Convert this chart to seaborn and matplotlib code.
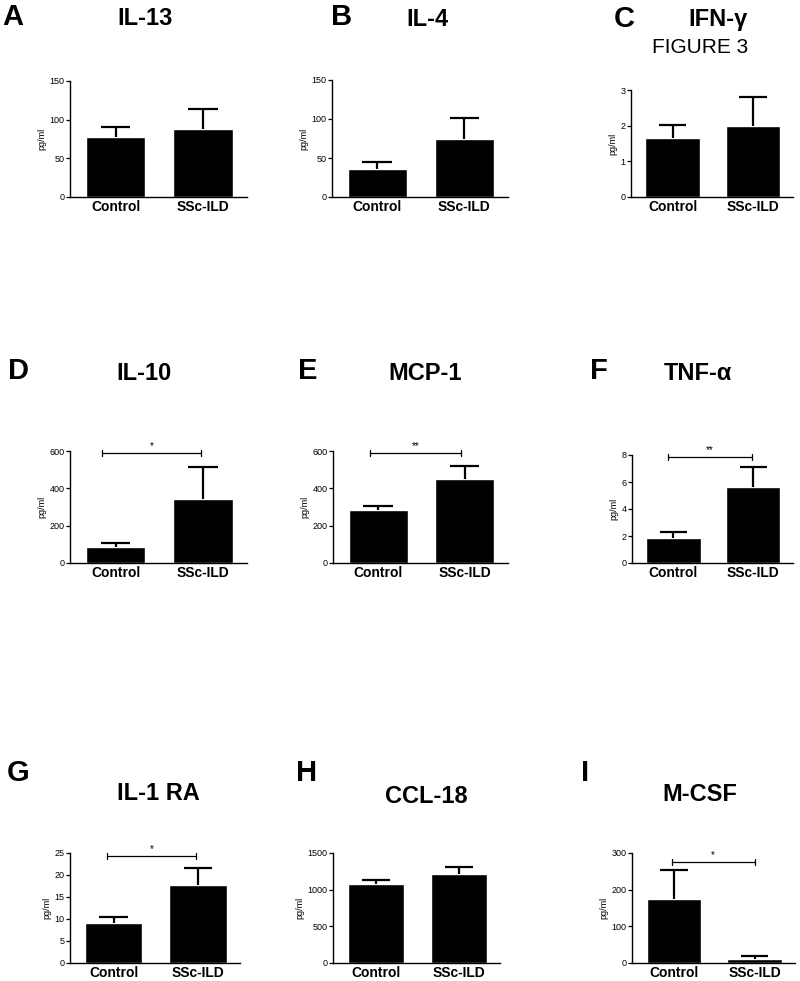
import matplotlib
matplotlib.use("Agg")
import matplotlib.pyplot as plt
import seaborn as sns

# data (mean and upper SEM per group)
letters = ["A", "B", "C", "D", "E", "F", "G", "H", "I"]
titles = ["IL-13", "IL-4", "IFN-\u03b3", "IL-10", "MCP-1", "TNF-\u03b1", "IL-1 RA", "CCL-18", "M-CSF"]
groups = ["Control", "SSc-ILD"]
control_mean = [77, 36.5, 1.65, 86, 282, 1.83, 9.0, 1075, 175]
control_sem = [14, 8, 0.37, 21, 25, 0.47, 1.5, 55, 78]
ssc_mean = [87.5, 74, 2.0, 341, 450, 5.62, 17.65, 1215, 11]
ssc_sem = [26.5, 27, 0.8, 173, 68, 1.46, 4.05, 95, 8]
y_top = [150, 150, 3, 600, 600, 8, 25, 1500, 300]
y_step = [50, 50, 1, 200, 200, 2, 5, 500, 100]
sig_label = [None, None, None, "*", "**", "**", "*", None, "*"]
sig_height = [None, None, None, 589, 589, 7.85, 24.3, None, 275]
sig_span = [None, None, None, (-0.15, 0.97), (-0.09, 0.96), (-0.07, 0.98),
            (-0.08, 0.98), None, (-0.03, 1.0)]

sns.set_style("ticks")
plt.rcParams["font.family"] = ["Liberation Sans", "DejaVu Sans"]
for key in ("text.color", "axes.labelcolor", "xtick.color", "ytick.color", "axes.edgecolor"):
    plt.rcParams[key] = "black"

W, H = 800, 981
fig = plt.figure(figsize=(W / 100, H / 100), dpi=100)


def px_rect(l, t, r, b):
    return [l / W, 1 - b / H, (r - l) / W, (b - t) / H]


# axes boxes in pixels: left, top, right, bottom
boxes = [
    (70, 81, 247, 197), (332, 80, 508, 197), (631, 90, 793, 197),
    (70, 451, 247, 563), (333, 451, 508, 563), (632, 455, 793, 563),
    (70, 853, 240, 963), (333, 853, 500, 963), (632, 853, 795, 963),
]
letter_pos = [(2, 3), (331, 3), (614, 5), (8, 357), (298, 357), (590, 357),
              (7, 759), (296, 759), (581, 759)]
title_pos = [(145, 7), (427, 8), (718, 8), (144, 362), (425, 362), (698, 362),
             (158, 782), (426, 785), (700, 783)]

cap_half = 0.17

for i in range(9):
    ax = fig.add_axes(px_rect(*boxes[i]))
    means = [control_mean[i], ssc_mean[i]]
    sems = [control_sem[i], ssc_sem[i]]
    sns.barplot(x=groups, y=means, color="black", saturation=1, width=0.68,
                errorbar=None, ax=ax)
    # upper-only SEM bars with caps
    for xi, (m, s) in enumerate(zip(means, sems)):
        ax.vlines(xi, m, m + s, color="black", lw=1.6, zorder=1, clip_on=False)
        ax.hlines(m + s, xi - cap_half, xi + cap_half, color="black", lw=1.6,
                  zorder=1, clip_on=False)
    ax.set_xlim(-0.52, 1.5)
    ax.set_ylim(0, y_top[i])
    ticks = [k * y_step[i] for k in range(int(round(y_top[i] / y_step[i])) + 1)]
    ax.set_yticks(ticks)
    ax.set_yticklabels([str(t) for t in ticks])
    ax.tick_params(axis="y", length=3, width=0.9, labelsize=6.5, pad=1)
    ax.tick_params(axis="x", length=0, labelsize=10, pad=2)
    for lab in ax.get_xticklabels():
        lab.set_fontweight("bold")
    ax.set_ylabel("pg/ml", fontsize=6.5, labelpad=2)
    ax.set_xlabel("")
    sns.despine(ax=ax)
    for s in ("left", "bottom"):
        ax.spines[s].set_linewidth(1.0)

    if sig_label[i]:
        x0, x1 = sig_span[i]
        h = sig_height[i]
        d = 0.025 * y_top[i]
        ax.plot([x0, x1], [h, h], color="black", lw=0.9, clip_on=False)
        ax.plot([x0, x0], [h - d, h + d], color="black", lw=0.9, clip_on=False)
        ax.plot([x1, x1], [h - d, h + d], color="black", lw=0.9, clip_on=False)
        ax.text((x0 + x1) / 2, h + 0.015 * y_top[i], sig_label[i], ha="center",
                va="bottom", fontsize=7)

    lx, ly = letter_pos[i]
    fig.text(lx / W, 1 - ly / H, letters[i], fontsize=21, fontweight="bold",
             ha="left", va="top")
    tx, ty = title_pos[i]
    fig.text(tx / W, 1 - ty / H, titles[i], fontsize=17, fontweight="bold",
             ha="center", va="top")

fig.text(700 / W, 1 - 38 / H, "FIGURE 3", fontsize=15, ha="center", va="top")

fig.savefig("out.png", dpi=100)
